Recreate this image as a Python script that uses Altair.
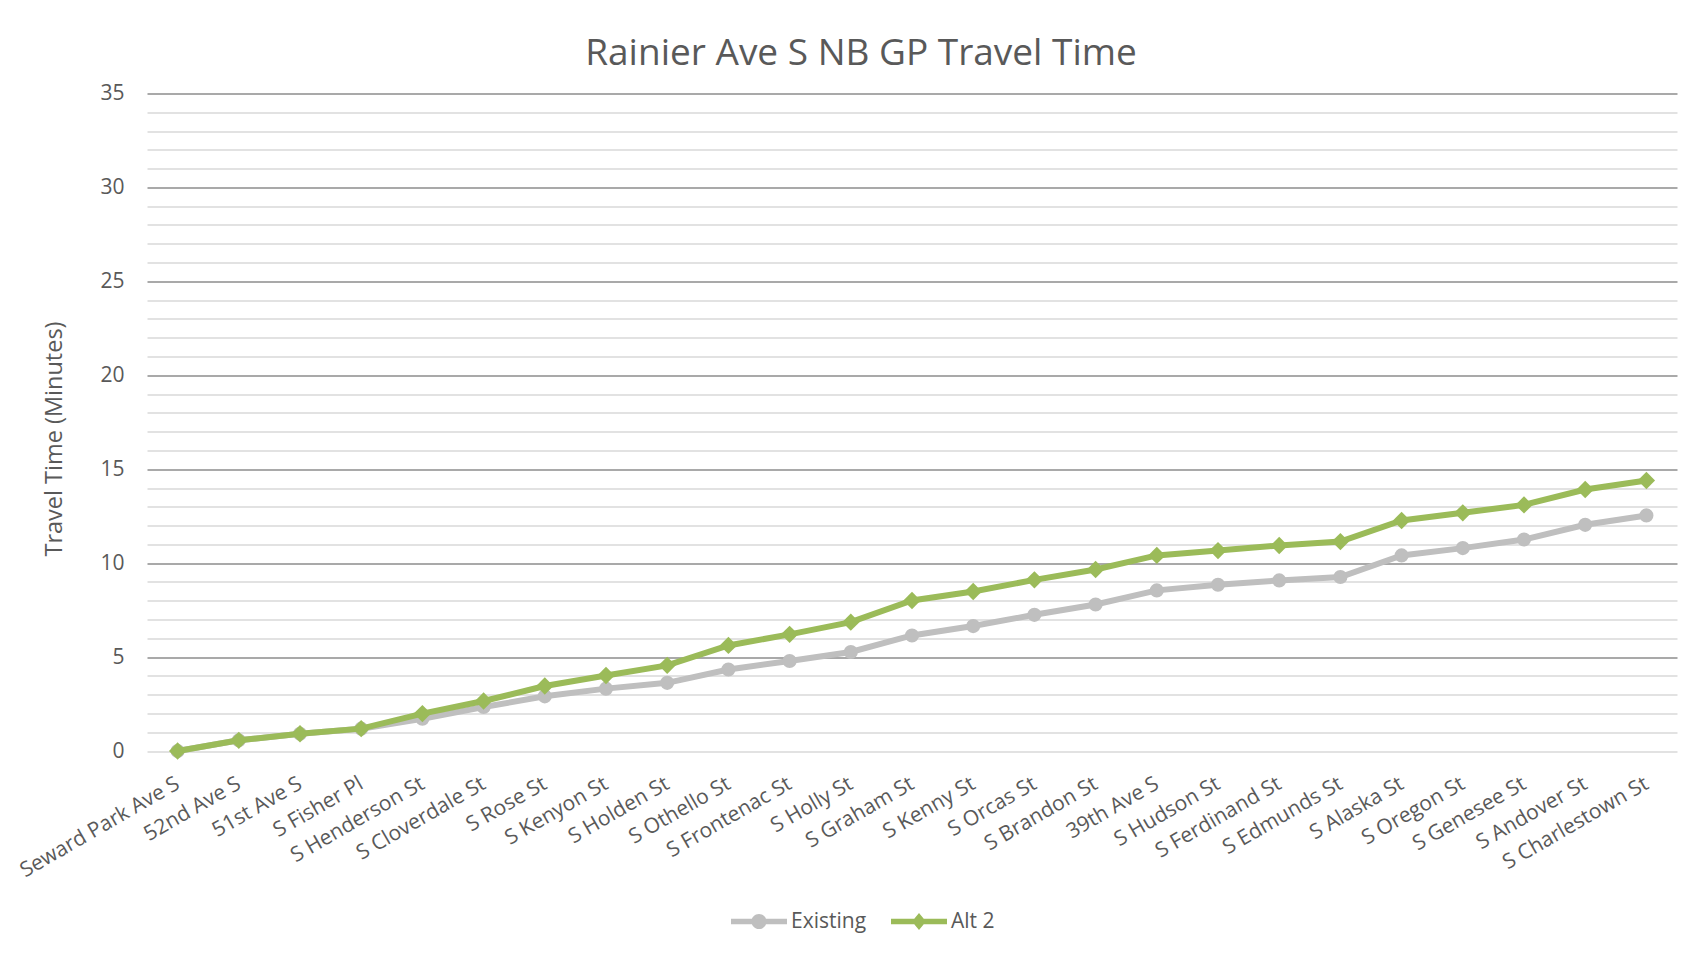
import altair as alt
import pandas as pd

streets = [
    "Seward Park Ave S", "52nd Ave S", "51st Ave S", "S Fisher Pl", "S Henderson St",
    "S Cloverdale St", "S Rose St", "S Kenyon St", "S Holden St", "S Othello St",
    "S Frontenac St", "S Holly St", "S Graham St", "S Kenny St", "S Orcas St",
    "S Brandon St", "39th Ave S", "S Hudson St", "S Ferdinand St", "S Edmunds St",
    "S Alaska St", "S Oregon St", "S Genesee St", "S Andover St", "S Charlestown St",
]
existing = [0.0, 0.57, 0.92, 1.19, 1.72, 2.34, 2.91, 3.32, 3.63, 4.34, 4.79, 5.27,
            6.15, 6.65, 7.25, 7.80, 8.55, 8.85, 9.08, 9.26, 10.41, 10.80, 11.26, 12.04, 12.54]
alt2 = [0.0, 0.57, 0.92, 1.19, 1.99, 2.66, 3.46, 4.02, 4.56, 5.62, 6.21, 6.86,
        8.01, 8.49, 9.11, 9.66, 10.41, 10.67, 10.94, 11.15, 12.27, 12.68, 13.10, 13.92, 14.40]
series_names = ["Existing", "Alt 2"]
y_ticks = list(range(0, 36))

GRAY = "#BFBFBF"
GREEN = "#9BBB59"
TEXT = "#595959"
FONT = "Open Sans"

df_ex = pd.DataFrame({"Street": streets, "Value": existing, "Series": "Existing"})
df_alt = pd.DataFrame({"Street": streets, "Value": alt2, "Series": "Alt 2"})
df_all = pd.concat([df_ex, df_alt], ignore_index=True)

x_enc = alt.X(
    "Street:N", sort=streets, title=None,
    scale=alt.Scale(type="point", padding=0.5),
    axis=alt.Axis(labelAngle=-30, labelAlign="right", labelBaseline="middle",
                  labelPadding=31, labelLimit=400, ticks=False, domain=False, grid=False,
                  labelColor=TEXT, labelFont=FONT, labelFontSize=21),
)
y_enc = alt.Y(
    "Value:Q", title="Travel Time (Minutes)",
    scale=alt.Scale(domain=[0, 35], nice=False),
    axis=alt.Axis(values=y_ticks,
                  labelExpr="datum.value % 5 === 0 ? datum.label : ''",
                  ticks=False, domain=False, labelPadding=23,
                  labelColor=TEXT, labelFont=FONT, labelFontSize=21,
                  titleColor=TEXT, titleFont=FONT, titleFontSize=23.5,
                  titleFontWeight="normal", titlePadding=33, titleY=345,
                  gridColor={"condition": {"test": "datum.value % 5 === 0 && datum.value > 0",
                                           "value": "#8C8C8C"},
                             "value": "#D9D9D9"},
                  gridWidth=1.5),
)

base_ex = alt.Chart(df_ex).encode(x=x_enc, y=y_enc)
base_alt = alt.Chart(df_alt).encode(x=x_enc, y=y_enc)

line_ex = base_ex.mark_line(color=GRAY, strokeWidth=6)
pts_ex = base_ex.mark_point(shape="circle", filled=True, color=GRAY, size=200, opacity=1)
line_alt = base_alt.mark_line(color=GREEN, strokeWidth=6)
pts_alt = base_alt.mark_point(shape="diamond", filled=True, color=GREEN, size=300, opacity=1)

circle_leg = ("M-1,-0.1 H1 V0.1 H-1 Z "
              "M0.27,0 A0.27,0.27 0 1,1 -0.27,0 A0.27,0.27 0 1,1 0.27,0 Z")
diamond_leg = "M-1,-0.1 H1 V0.1 H-1 Z M0,-0.3 L0.25,0 L0,0.3 L-0.25,0 Z"

leg = alt.Legend(title=None, orient="none", direction="horizontal",
                 legendX=584, legendY=800,
                 symbolSize=3136, symbolStrokeWidth=0, symbolOpacity=1,
                 labelFont=FONT, labelFontSize=21, labelColor=TEXT,
                 labelOffset=4, columnPadding=24)

legend_layer = alt.Chart(df_all).transform_filter("false").mark_point(
    filled=True, size=3136, opacity=1
).encode(
    x=x_enc, y=y_enc,
    color=alt.Color("Series:N", scale=alt.Scale(domain=series_names, range=[GRAY, GREEN]),
                    legend=leg),
    shape=alt.Shape("Series:N", scale=alt.Scale(domain=series_names,
                                                range=[circle_leg, diamond_leg]),
                    legend=leg),
)

chart = alt.layer(line_ex, pts_ex, line_alt, pts_alt, legend_layer).properties(
    width=1530,
    height=657.5,
    title=alt.TitleParams("Rainier Ave S NB GP Travel Time", font=FONT, fontSize=37,
                          fontWeight="normal", color=TEXT, anchor="middle",
                          frame="group", dx=-51, offset=10),
    padding={"left": 139, "top": 85.5, "right": 20, "bottom": 200},
    autosize=alt.AutoSizeParams(type="none"),
    background="white",
).configure_view(strokeWidth=0)

chart.save("out.html", embed_options={"renderer": "svg", "actions": False})
